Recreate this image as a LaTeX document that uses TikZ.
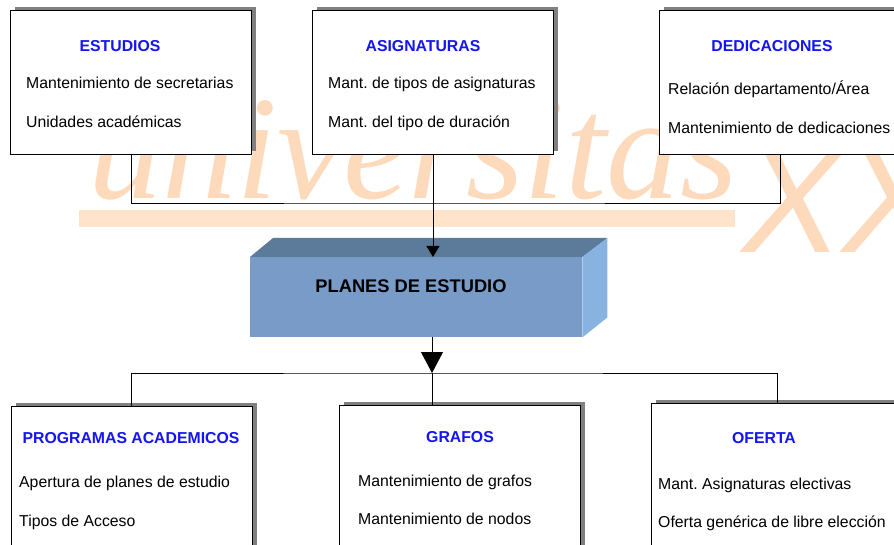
\documentclass[tikz,border=0pt]{standalone}
\usepackage{fontspec}
\setmainfont{Liberation Sans}
\newfontfamily\wmserif{Liberation Serif}
\usetikzlibrary{arrows.meta,shadows}
\definecolor{wm}{HTML}{FDDABC}
\definecolor{wmband}{HTML}{FFE3CA}
\definecolor{frontc}{HTML}{789CC7}
\definecolor{topc}{HTML}{5C7B9B}
\definecolor{sidec}{HTML}{88B3E1}
\definecolor{ttl}{HTML}{1414F5}
\frenchspacing
\begin{document}
\begin{tikzpicture}[x=1pt,y=-1pt,
  box/.style={draw=black, line width=0.9pt, fill=white, minimum width=241pt,
    minimum height=#1, inner sep=0pt, anchor=north west,
    drop shadow={shadow xshift=5pt, shadow yshift=3.5pt, fill=black!50, opacity=1}},
  ttlstyle/.style={font=\bfseries\fontsize{15.8}{18}\selectfont, text=ttl, anchor=base, inner sep=0pt},
  itemstyle/.style={font=\fontsize{15.8}{18}\selectfont, anchor=base west, inner sep=0pt},
  conn/.style={line width=0.9pt, draw=black},
  wmstyle/.style={text=wm, inner sep=0pt, anchor=base west}
]
\useasboundingbox (0,0) rectangle (894,545);
\clip (0,0) rectangle (894,545);

% watermark
\node[wmstyle, font=\wmserif\itshape\fontsize{148}{150}\selectfont] (wmA) at (88,199) {universitas};
\fill[wmband] (79,210) rectangle (735,227);
\node[wmstyle, font=\itshape\fontsize{150}{150}\selectfont] (wmB) at (742,253) {XX};

% top boxes
\node[box=143.5pt] (est) at (10,10.5) {};
\node[box=143.5pt] (asig) at (312,10.5) {};
\node[box=143.5pt] (ded) at (659,10.5) {};

\node[ttlstyle] (estT) at (120,51.7) {ESTUDIOS};
\node[itemstyle] (estA) at (26,88.3) {Mantenimiento de secretarias};
\node[itemstyle] (estB) at (26,127.3) {Unidades académicas};

\node[ttlstyle] (asigT) at (423,51.7) {ASIGNATURAS};
\node[itemstyle] (asigA) at (328,88.3) {Mant. de tipos de asignaturas};
\node[itemstyle] (asigB) at (328,127.3) {Mant. del tipo de duración};

\node[ttlstyle] (dedT) at (772,51.7) {DEDICACIONES};
\node[itemstyle] (dedA) at (668,95) {Relación departamento/Área};
\node[itemstyle] (dedB) at (668,133.3) {Mantenimiento de dedicaciones};

% central 3D box
\node[fill=frontc, minimum width=332pt, minimum height=80pt, inner sep=0pt, anchor=north west] (plan) at (250,257) {};
\fill[topc] (plan.north west) -- ++(23,-19) -- ([xshift=25pt,yshift=19pt]plan.north east) -- (plan.north east) -- cycle;
\fill[sidec] (plan.north east) -- ++(25,-19) -- ([xshift=25pt,yshift=20pt]plan.south east) -- (plan.south east) -- cycle;
\node[font=\bfseries\fontsize{18.3}{20}\selectfont, anchor=base, inner sep=0pt] (planT) at (411,292.7) {PLANES DE ESTUDIO};

% bottom boxes
\node[box=160pt] (prog) at (10.5,406) {};
\node[box=160pt] (graf) at (339,405) {};
\node[box=160pt, minimum width=251pt] (ofer) at (651,403) {};

\node[ttlstyle] (progT) at (131,443.3) {PROGRAMAS ACADEMICOS};
\node[itemstyle] (progA) at (19,487.3) {Apertura de planes de estudio};
\node[itemstyle] (progB) at (19,526.7) {Tipos de Acceso};

\node[ttlstyle] (grafT) at (460,442.3) {GRAFOS};
\node[itemstyle] (grafA) at (358,486.7) {Mantenimiento de grafos};
\node[itemstyle] (grafB) at (358,524.3) {Mantenimiento de nodos};

\node[ttlstyle] (oferT) at (764,443.3) {OFERTA};
\node[itemstyle] (oferA) at (658,489) {Mant. Asignaturas electivas};
\node[itemstyle] (oferB) at (658,527.3) {Oferta genérica de libre elección};

% connectors
\coordinate (tophub) at (433,203);
\coordinate (hub) at (432,373);
\draw[conn] (est.south) |- (tophub) -| (ded.south);
\draw[conn, -{Triangle[length=11pt,width=13pt]}] (asig.south) -- (asig.south |- plan.north);
\draw[conn, -{Triangle[length=21pt,width=22pt]}] (plan.south -| hub) -- (hub);
\draw[conn] (prog.north) |- (hub) -| (ofer.north);
\draw[conn] (hub) -- (hub |- graf.north);
\end{tikzpicture}
\end{document}
